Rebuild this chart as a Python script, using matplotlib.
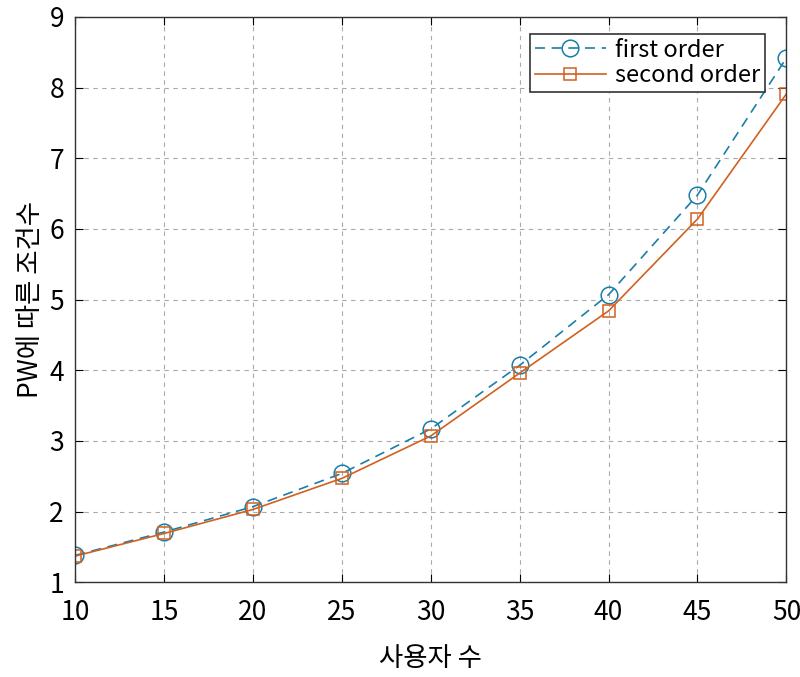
import matplotlib.pyplot as plt

plt.rcParams['font.family'] = ['Noto Sans CJK KR', 'DejaVu Sans']

# 데이터
users = [10, 15, 20, 25, 30, 35, 40, 45, 50]
first_order = [1.38, 1.71, 2.07, 2.54, 3.17, 4.07, 5.07, 6.48, 8.42]
second_order = [1.37, 1.69, 2.03, 2.47, 3.07, 3.96, 4.84, 6.14, 7.91]

fig = plt.figure(figsize=(8, 6.77), dpi=100)
ax = fig.add_axes([0.094, 0.140, 0.889, 0.835])

ax.plot(users, first_order, linestyle=(0, (6, 4)), color='#1a7fa8', linewidth=1.2,
        marker='o', markersize=12, markerfacecolor='none', markeredgewidth=1.1,
        label='first order')
ax.plot(users, second_order, linestyle='-', color='#d2601f', linewidth=1.2,
        marker='s', markersize=9, markerfacecolor='none', markeredgewidth=1.1,
        label='second order')

ax.set_xlim(10, 50)
ax.set_ylim(1, 9)
ax.set_xticks(range(10, 51, 5))
ax.set_yticks(range(1, 10))
ax.grid(True, linestyle=(0, (4, 4)), color='#aaaaaa', linewidth=0.8)
ax.tick_params(direction='in', length=6, labelsize=19, top=True, right=True)
ax.tick_params(axis='x', pad=12)
ax.tick_params(axis='y', pad=8)
for s in ax.spines.values():
    s.set_color('#333333')
    s.set_linewidth(1.0)

ax.set_xlabel('사용자 수', fontsize=19, labelpad=14)
ax.set_ylabel('PW에 따른 조건수', fontsize=19, labelpad=4)

leg = ax.legend(loc='upper right', fontsize=17, fancybox=False, framealpha=1,
                edgecolor='#333333', handlelength=3.0, borderpad=0.2,
                labelspacing=0.1, handletextpad=0.4, borderaxespad=0.6,
                bbox_to_anchor=(0.99, 0.995))
leg.get_frame().set_linewidth(1.2)

fig.savefig('out.png', dpi=100)
